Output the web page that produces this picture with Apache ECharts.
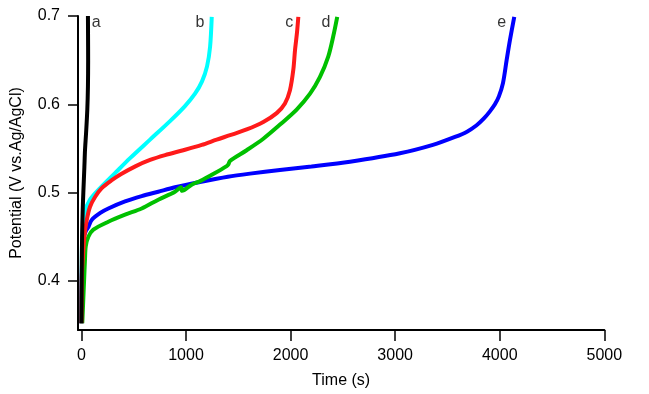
<!DOCTYPE html>
<html>
<head>
<meta charset="utf-8">
<script src="https://cdn.jsdelivr.net/npm/echarts@6/dist/echarts.min.js"></script>
<style>html,body{margin:0;padding:0;background:#fff;}#c{width:649px;height:394px;}</style>
</head>
<body>
<div id="c"></div>
<script>
// Data: [time (s), potential (V)]
const curveA = [[0,0.352],[2,0.40],[6,0.45],[12,0.48],[18,0.50],[28,0.529],[34,0.548],[44,0.567],[56,0.594],[62,0.62],[64,0.65],[63,0.68],[62,0.70]];
const curveB = [[0,0.352],[3,0.40],[6,0.446],[34,0.478],[82,0.492],[178,0.505],[321,0.522],[465,0.539],[656,0.560],[847,0.581],[990,0.598],[1086,0.612],[1153,0.626],[1201,0.643],[1230,0.665],[1246,0.699]];
const curveC = [[0,0.352],[3,0.40],[6,0.412],[28,0.450],[51,0.469],[82,0.484],[130,0.495],[194,0.505],[290,0.514],[380,0.521],[520,0.530],[656,0.537],[800,0.5425],[974,0.548],[1150,0.554],[1293,0.560],[1421,0.565],[1580,0.5715],[1739,0.580],[1867,0.590],[1946,0.601],[1994,0.616],[2026,0.639],[2042,0.661],[2061,0.681],[2074,0.699]];
const curveD = [[8,0.352],[25,0.40],[34,0.425],[41,0.439],[66,0.450],[114,0.458],[257,0.467],[417,0.475],[576,0.482],[735,0.492],[895,0.501],[952,0.506],[962,0.502],[1054,0.509],[1134,0.513],[1260,0.521],[1389,0.530],[1405,0.532],[1421,0.536],[1580,0.548],[1739,0.561],[1899,0.577],[2058,0.594],[2186,0.612],[2281,0.631],[2360,0.654],[2408,0.677],[2446,0.699]];
const curveE = [[0,0.352],[3,0.40],[8,0.43],[20,0.448],[40,0.456],[66,0.461],[98,0.469],[180,0.477],[257,0.482],[417,0.490],[576,0.496],[735,0.501],[895,0.506],[1134,0.512],[1400,0.518],[1612,0.5215],[1898,0.5255],[2200,0.5295],[2568,0.535],[3046,0.5445],[3361,0.554],[3572,0.563],[3687,0.569],[3776,0.576],[3849,0.584],[3906,0.592],[3954,0.600],[3992,0.609],[4031,0.624],[4066,0.650],[4098,0.673],[4139,0.699]];
const labelNames = ['a','b','c','d','e'];
const labelX = [140,1134,1988,2338,4018];
const labelY = [0.692,0.692,0.692,0.692,0.692];
const xTicks = [0,1000,2000,3000,4000,5000];
const yTicks = [0.4,0.5,0.6,0.7];

const font = 'Liberation Sans, Arial, sans-serif';
function line(data, color){
  return {type:'line', data:data, showSymbol:false, symbol:'none', smooth:0.3,
    lineStyle:{color:color, width:4}, itemStyle:{color:color}, z:2, animation:false};
}
const chart = echarts.init(document.getElementById('c'), null, {renderer:'canvas'});
chart.setOption({
  animation:false,
  backgroundColor:'#fff',
  grid:{left:78, right:44.7, top:16, bottom:64, containLabel:false},
  xAxis:{type:'value', min:-33, max:5000,
    name:'Time (s)', nameLocation:'middle', nameGap:43,
    nameTextStyle:{color:'#000', fontSize:16, fontFamily:font},
    axisLine:{show:true, onZero:false, lineStyle:{color:'#000', width:2}},
    axisTick:{show:true, length:11, customValues:xTicks, lineStyle:{color:'#000', width:1.5}},
    axisLabel:{color:'#000', fontSize:16, fontFamily:font, margin:18, customValues:xTicks,
      formatter:function(v){return String(v);}},
    splitLine:{show:false}},
  yAxis:{type:'value', min:0.3444, max:0.7,
    name:'Potential (V vs.Ag/AgCl)', nameLocation:'middle', nameGap:53,
    nameTextStyle:{color:'#000', fontSize:16, fontFamily:font},
    axisLine:{show:true, onZero:false, lineStyle:{color:'#000', width:2}},
    axisTick:{show:true, length:10, customValues:yTicks, lineStyle:{color:'#000', width:1.5}},
    axisLabel:{color:'#000', fontSize:16, fontFamily:font, margin:18, customValues:yTicks,
      formatter:function(v){return v.toFixed(1);}},
    splitLine:{show:false}},
  series:[
    line(curveE,'#0000ff'),
    line(curveB,'#00ffff'),
    line(curveD,'#00c000'),
    line(curveC,'#ff1a1a'),
    line(curveA,'#000000'),
    {type:'scatter', symbolSize:0, z:5, animation:false,
      data:labelNames.map((n,i)=>({value:[labelX[i],labelY[i]], name:n})),
      label:{show:true, position:'inside', formatter:'{b}', color:'#000', fontSize:16, fontFamily:font}}
  ]
});
</script>
</body>
</html>
